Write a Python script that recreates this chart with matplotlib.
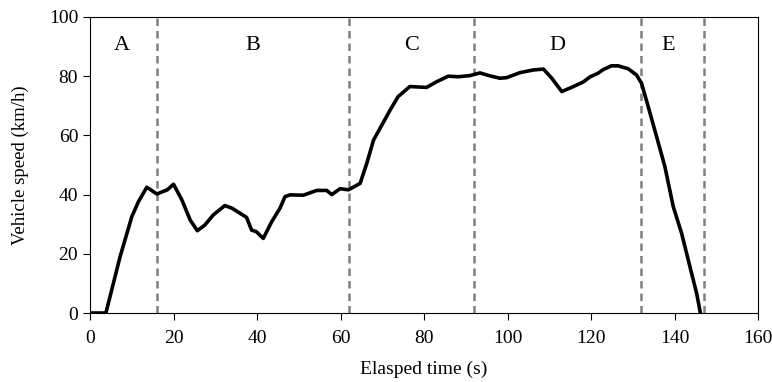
import matplotlib
matplotlib.use("Agg")
import matplotlib.pyplot as plt

# speed trace
time_s = [0, 3.8, 7.2, 10, 11.6, 13.6, 16, 18.5, 20, 22, 24, 25.7, 27.5, 29.5,
          32.3, 34, 37.5, 38.7, 39.8, 41.5, 43.5, 45.5, 46.7, 47.9, 51.1, 54.3,
          56.7, 57.9, 59.9, 61.9, 64.7, 66.3, 67.9, 69.9, 71.9, 73.8, 76.6,
          80.6, 83, 85.8, 88.2, 91, 93.4, 95.8, 98.2, 99.8, 103, 106.2, 108.6,
          110.6, 113, 115.8, 118.2, 119.8, 121.7, 122.9, 124.9, 126.5, 128.9,
          130.9, 132.1, 133.7, 135.7, 137.7, 139.7, 141.7, 143.7, 145.3, 146.2]
speed_kmh = [0, 0, 19, 32.5, 37.6, 42.5, 40.2, 41.6, 43.5, 38.2, 31.4, 27.8,
             29.7, 33.1, 36.3, 35.4, 32.3, 28, 27.5, 25.2, 30.8, 35.4, 39.3,
             39.9, 39.8, 41.4, 41.4, 40, 42, 41.6, 43.8, 50.6, 58.4, 63.5, 68.6,
             73.1, 76.5, 76.2, 78.1, 80, 79.8, 80.2, 81.1, 80.1, 79.3, 79.5,
             81.2, 82.1, 82.4, 79.3, 74.8, 76.5, 78.1, 79.8, 81, 82.2, 83.5,
             83.5, 82.5, 80.4, 77.6, 69.7, 59.6, 49.4, 35.9, 26.9, 15.6, 6.6, 0]

phase_bounds = [16, 62, 92, 132, 147]
phase_names = ["A", "B", "C", "D", "E"]
phase_label_x = [7.7, 39, 77, 112, 138.5]

plt.rcParams['font.family'] = ['Liberation Serif', 'DejaVu Serif']

fig = plt.figure(figsize=(7.72, 3.82), dpi=100)
ax = fig.add_axes([0.1166, 0.1806, 0.8653, 0.775])

for b in phase_bounds:
    ax.axvline(b, color='#808080', linestyle=(0, (3, 2)), linewidth=1.8, zorder=1)

ax.plot(time_s, speed_kmh, color='black', linewidth=2.6, zorder=2,
        solid_joinstyle='round')

for name, x in zip(phase_names, phase_label_x):
    ax.text(x, 90.5, name, ha='center', va='center', fontsize=16)

ax.set_xlim(0, 160)
ax.set_ylim(0, 100)
ax.set_xticks(range(0, 161, 20))
ax.set_yticks(range(0, 101, 20))
ax.tick_params(direction='out', length=5, labelsize=14)
ax.tick_params(axis='x', pad=7)
ax.set_xlabel('Elasped time (s)', fontsize=14, labelpad=10)
ax.set_ylabel('Vehicle speed (km/h)', fontsize=13.5, labelpad=14)

fig.savefig('out.png', dpi=100)
